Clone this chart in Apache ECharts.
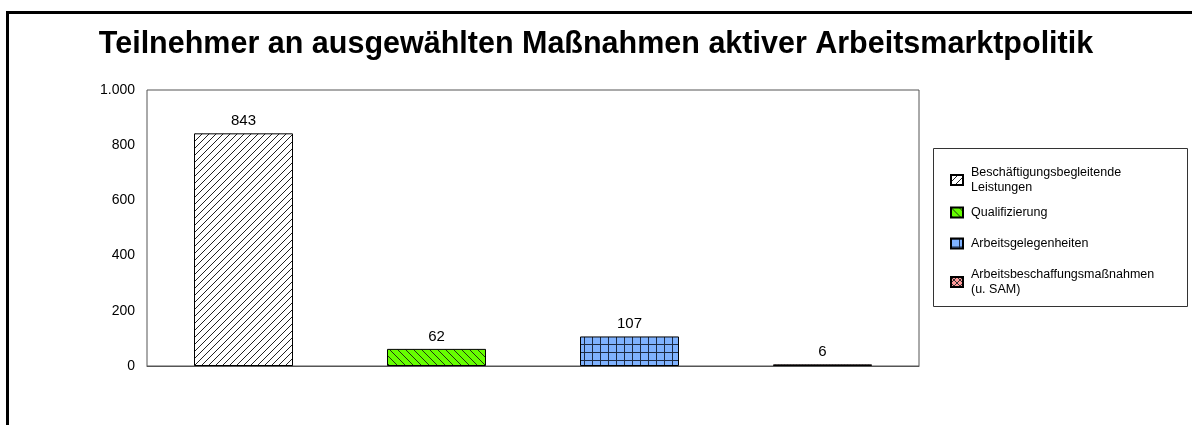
<!DOCTYPE html>
<html>
<head>
<meta charset="utf-8">
<title>Teilnehmer an ausgewählten Maßnahmen aktiver Arbeitsmarktpolitik</title>
<script src="https://cdn.jsdelivr.net/npm/echarts@6/dist/echarts.min.js"></script>
<style>
  html, body { margin: 0; padding: 0; background: #fff; }
  #chart { width: 1192px; height: 425px; }
</style>
</head>
<body>
<div id="chart"></div>
<script>
    // Werte
    const categories = ['Beschäftigungsbegleitende Leistungen', 'Qualifizierung', 'Arbeitsgelegenheiten', 'Arbeitsbeschaffungsmaßnahmen (u. SAM)'];
    const legendNames = ['Beschäftigungsbegleitende\nLeistungen', 'Qualifizierung', 'Arbeitsgelegenheiten', 'Arbeitsbeschaffungsmaßnahmen\n(u. SAM)'];
    const values = [843, 62, 107, 6];
    const yMin = 0;
    const yMax = 1000;
    const yStep = 200;

    const font = 'Arial, "Liberation Sans", sans-serif';

    // kleine Kacheln fuer die Schraffuren
    function tile(size, bg, draw) {
        let c = document.createElement('canvas');
        c.width = size;
        c.height = size;
        let ctx = c.getContext('2d');
        ctx.fillStyle = bg;
        ctx.fillRect(0, 0, size, size);
        draw(ctx, size);
        return {image: c, repeat: 'repeat'};
    }

    let patterns = [
        tile(7, '#ffffff', function (ctx, s) {
            ctx.strokeStyle = '#222';
            ctx.lineWidth = 1;
            ctx.beginPath();
            ctx.moveTo(-1, s + 1); ctx.lineTo(s + 1, -1);
            ctx.moveTo(-2, 2); ctx.lineTo(2, -2);
            ctx.moveTo(s - 2, s + 2); ctx.lineTo(s + 2, s - 2);
            ctx.stroke();
        }),
        tile(8, '#66ff00', function (ctx, s) {
            ctx.strokeStyle = '#1f3a10';
            ctx.lineWidth = 1;
            ctx.beginPath();
            ctx.moveTo(-1, -1); ctx.lineTo(s + 1, s + 1);
            ctx.moveTo(-2, s - 2); ctx.lineTo(2, s + 2);
            ctx.moveTo(s - 2, -2); ctx.lineTo(s + 2, 2);
            ctx.stroke();
        }),
        tile(8, '#7fb2ff', function (ctx, s) {
            ctx.fillStyle = '#1c2b45';
            ctx.fillRect(0, 0, s, 1);
            ctx.fillRect(0, 0, 1, s);
        }),
        tile(6, '#ff9999', function (ctx, s) {
            ctx.strokeStyle = '#333';
            ctx.lineWidth = 1;
            ctx.beginPath();
            ctx.moveTo(0, 0); ctx.lineTo(s, s);
            ctx.moveTo(0, s); ctx.lineTo(s, 0);
            ctx.stroke();
        })
    ];

    let series = values.map(function (v, i) {
        return {
            name: legendNames[i],
            type: 'bar',
            stack: 'alle',
            barWidth: 99,
            data: values.map(function (w, j) { return j === i ? w : '-'; }),
            itemStyle: {
                color: patterns[i],
                borderColor: '#000',
                borderWidth: 1
            },
            label: {
                show: true,
                position: 'top',
                distance: 5,
                color: '#000',
                fontSize: 15,
                fontFamily: font
            }
        };
    });

    let legendData = legendNames.map(function (n, i) {
        return {
            name: n,
            textStyle: {padding: i === 2 ? [6, 0, 6, 3] : [0, 0, 0, 3]}
        };
    });

    let myChart = echarts.init(document.getElementById('chart'));
    myChart.setOption({
        backgroundColor: '#fff',
        animation: false,
        title: {
            text: 'Teilnehmer an ausgewählten Maßnahmen aktiver Arbeitsmarktpolitik',
            left: 'center',
            top: 24,
            textStyle: {
                fontFamily: font,
                fontSize: 30.5,
                fontWeight: 'bold',
                color: '#000'
            }
        },
        graphic: [
            {
                type: 'rect',
                shape: {x: 7.5, y: 12.5, width: 2000, height: 1000},
                style: {fill: null, stroke: '#000', lineWidth: 3},
                silent: true
            },
            {
                type: 'rect',
                shape: {x: 933.5, y: 148.5, width: 254, height: 158},
                style: {fill: '#fff', stroke: '#333', lineWidth: 1},
                z: -1,
                silent: true
            }
        ],
        legend: {
            orient: 'vertical',
            left: 950,
            top: 165,
            padding: 0,
            itemWidth: 12,
            itemHeight: 10,
            itemGap: 10,
            icon: 'rect',
            data: legendData,
            textStyle: {
                fontFamily: font,
                fontSize: 12.5,
                lineHeight: 15,
                color: '#000'
            }
        },
        grid: {
            left: 147,
            right: 273,
            top: 90,
            bottom: 59,
            show: true,
            borderColor: '#555',
            borderWidth: 1
        },
        xAxis: {
            type: 'category',
            data: categories,
            axisLabel: {show: false},
            axisTick: {show: false},
            axisLine: {lineStyle: {color: '#555'}}
        },
        yAxis: {
            type: 'value',
            min: yMin,
            max: yMax,
            interval: yStep,
            splitLine: {show: false},
            axisLine: {show: false},
            axisTick: {show: false},
            axisLabel: {
                margin: 12,
                color: '#000',
                fontSize: 14,
                fontFamily: font,
                formatter: function (v) {
                    return String(v).replace(/\B(?=(\d{3})+(?!\d))/g, '.');
                }
            }
        },
        series: series
    });
</script>
</body>
</html>
